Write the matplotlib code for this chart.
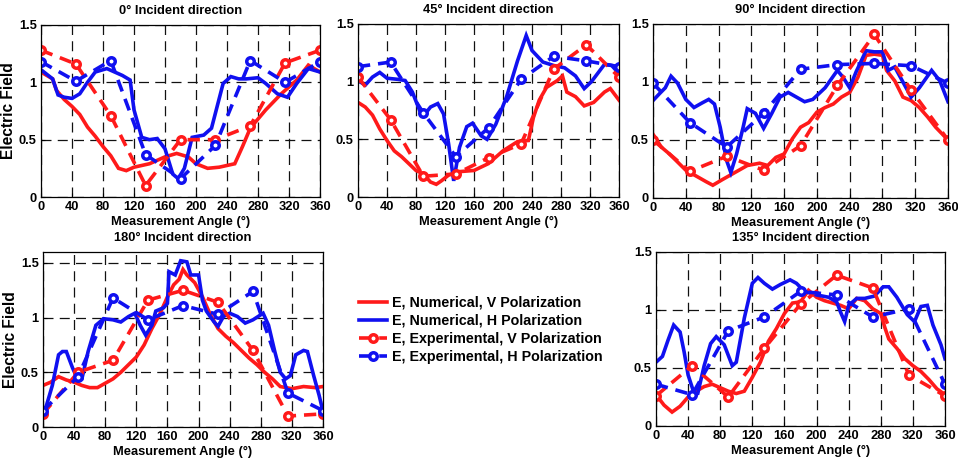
import matplotlib
matplotlib.use("Agg")
import matplotlib.pyplot as plt

plt.rcParams['font.family'] = ['Liberation Sans', 'DejaVu Sans']
plt.rcParams['font.weight'] = 'bold'

# Experimental angles
exp_angles = [0, 45, 90, 135, 180, 225, 270, 315, 360]

# ---------------- 0 deg incident ----------------
p0_exp_v = [1.28, 1.16, 0.71, 0.10, 0.50, 0.50, 0.62, 1.17, 1.28]
p0_exp_h = [1.18, 1.01, 1.19, 0.37, 0.16, 0.45, 1.19, 1.00, 1.18]
p0_num_v_x = [0, 15, 20, 30, 40, 50, 60, 70, 80, 90, 100, 110, 120, 140, 160, 175, 190, 200, 215, 230, 250, 260, 270, 290, 310, 330, 345, 360]
p0_num_v_y = [1.09, 1.03, 0.93, 0.85, 0.79, 0.72, 0.61, 0.53, 0.44, 0.36, 0.25, 0.23, 0.26, 0.29, 0.35, 0.38, 0.35, 0.29, 0.25, 0.26, 0.29, 0.44, 0.60, 0.76, 0.90, 1.02, 1.15, 1.09]
p0_num_h_x = [0, 15, 22, 30, 40, 50, 60, 70, 85, 95, 105, 115, 120, 130, 140, 150, 160, 170, 177, 185, 195, 210, 220, 235, 245, 255, 265, 280, 290, 305, 318, 330, 345, 360]
p0_num_h_y = [1.11, 1.03, 0.89, 0.87, 0.86, 0.90, 1.00, 1.09, 1.12, 1.09, 1.06, 1.02, 0.76, 0.52, 0.50, 0.51, 0.42, 0.20, 0.16, 0.25, 0.52, 0.54, 0.60, 0.99, 1.05, 1.03, 1.03, 1.04, 0.99, 0.90, 0.87, 0.99, 1.12, 1.09]

# ---------------- 45 deg incident ----------------
p45_exp_v = [1.04, 0.67, 0.18, 0.20, 0.34, 0.46, 1.11, 1.32, 1.04]
p45_exp_h = [1.13, 1.17, 0.73, 0.35, 0.60, 1.02, 1.22, 1.18, 1.13]
p45_num_v_x = [0, 10, 20, 30, 40, 50, 60, 70, 80, 90, 100, 108, 115, 125, 140, 160, 180, 200, 220, 235, 242, 250, 260, 275, 282, 288, 300, 312, 325, 340, 348, 360]
p45_num_v_y = [0.82, 0.78, 0.71, 0.59, 0.49, 0.40, 0.35, 0.29, 0.23, 0.20, 0.13, 0.11, 0.14, 0.19, 0.22, 0.23, 0.29, 0.40, 0.48, 0.49, 0.69, 0.84, 0.95, 1.01, 1.05, 0.91, 0.87, 0.79, 0.82, 0.91, 0.94, 0.84]
p45_num_h_x = [0, 10, 20, 30, 40, 55, 65, 75, 85, 95, 100, 110, 118, 125, 132, 140, 150, 158, 170, 178, 190, 205, 220, 232, 240, 255, 270, 285, 300, 312, 322, 340, 350, 360]
p45_num_h_y = [1.01, 0.97, 1.04, 1.08, 1.03, 1.02, 1.01, 0.91, 0.75, 0.74, 0.78, 0.81, 0.72, 0.46, 0.14, 0.43, 0.61, 0.64, 0.53, 0.50, 0.63, 0.87, 1.18, 1.40, 1.27, 1.17, 1.14, 1.12, 1.05, 0.94, 1.00, 1.15, 1.14, 1.07]

# ---------------- 90 deg incident ----------------
p90_exp_v = [0.50, 0.23, 0.36, 0.24, 0.45, 0.97, 1.41, 0.93, 0.50]
p90_exp_h = [0.99, 0.65, 0.44, 0.73, 1.11, 1.15, 1.16, 1.14, 0.99]
p90_num_v_x = [0, 10, 20, 30, 40, 55, 65, 73, 85, 100, 115, 130, 140, 150, 160, 170, 180, 190, 200, 210, 220, 230, 240, 250, 260, 270, 280, 285, 295, 305, 315, 325, 335, 345, 360]
p90_num_v_y = [0.55, 0.44, 0.38, 0.31, 0.24, 0.18, 0.14, 0.11, 0.16, 0.22, 0.28, 0.30, 0.28, 0.35, 0.38, 0.51, 0.61, 0.65, 0.74, 0.78, 0.81, 0.87, 0.91, 1.04, 1.23, 1.24, 1.23, 1.10, 1.01, 0.87, 0.84, 0.78, 0.70, 0.61, 0.50]
p90_num_h_x = [0, 8, 15, 22, 30, 40, 50, 60, 68, 75, 82, 90, 95, 102, 110, 115, 125, 135, 145, 155, 165, 175, 185, 195, 210, 225, 232, 240, 248, 260, 270, 280, 287, 295, 305, 315, 325, 340, 350, 360]
p90_num_h_y = [0.84, 0.90, 0.95, 1.05, 0.99, 0.85, 0.78, 0.82, 0.85, 0.81, 0.61, 0.32, 0.22, 0.38, 0.61, 0.77, 0.73, 0.60, 0.73, 0.87, 0.91, 0.87, 0.83, 0.85, 0.95, 1.10, 1.04, 0.95, 1.09, 1.27, 1.26, 1.26, 1.10, 1.13, 1.00, 0.87, 0.95, 1.10, 1.01, 0.83]

# ---------------- 180 deg incident ----------------
p180_exp_v = [0.12, 0.50, 0.61, 1.16, 1.25, 1.14, 0.70, 0.10, 0.12]
p180_exp_h = [0.15, 0.46, 1.18, 0.98, 1.11, 1.03, 1.24, 0.31, 0.15]
p180_num_v_x = [0, 10, 20, 30, 40, 50, 60, 70, 80, 90, 100, 110, 120, 130, 140, 150, 160, 168, 175, 180, 185, 195, 205, 215, 225, 235, 245, 255, 265, 275, 285, 295, 305, 320, 335, 350, 360]
p180_num_v_y = [0.38, 0.41, 0.46, 0.43, 0.41, 0.38, 0.36, 0.36, 0.40, 0.44, 0.50, 0.57, 0.64, 0.75, 0.90, 1.03, 1.19, 1.30, 1.35, 1.44, 1.39, 1.32, 1.19, 1.03, 0.90, 0.83, 0.77, 0.70, 0.63, 0.57, 0.50, 0.44, 0.37, 0.35, 0.37, 0.36, 0.37]
p180_num_h_x = [0, 5, 12, 20, 25, 30, 38, 45, 50, 58, 68, 78, 90, 100, 110, 118, 125, 132, 140, 145, 155, 160, 162, 170, 177, 185, 190, 200, 205, 210, 220, 225, 232, 240, 250, 260, 270, 283, 290, 298, 305, 312, 318, 325, 335, 340, 348, 355, 360]
p180_num_h_y = [0.11, 0.21, 0.38, 0.66, 0.69, 0.69, 0.54, 0.43, 0.44, 0.69, 0.93, 0.99, 0.98, 0.96, 1.01, 1.04, 0.93, 0.84, 0.93, 1.06, 1.09, 1.13, 1.42, 1.39, 1.52, 1.51, 1.39, 1.39, 1.16, 1.06, 0.96, 0.92, 1.01, 1.04, 1.01, 0.95, 0.98, 1.04, 0.93, 0.69, 0.50, 0.44, 0.47, 0.66, 0.70, 0.69, 0.47, 0.29, 0.14]

# ---------------- 135 deg incident ----------------
p135_exp_v = [0.26, 0.52, 0.25, 0.67, 1.05, 1.30, 1.19, 0.44, 0.26]
p135_exp_h = [0.36, 0.27, 0.82, 0.94, 1.16, 1.13, 0.94, 1.01, 0.36]
p135_num_v_x = [0, 10, 20, 30, 40, 50, 60, 70, 80, 90, 100, 110, 120, 130, 140, 150, 160, 170, 180, 190, 200, 210, 220, 230, 240, 250, 260, 270, 280, 285, 290, 300, 310, 320, 330, 340, 350, 360]
p135_num_v_y = [0.27, 0.18, 0.12, 0.17, 0.25, 0.30, 0.34, 0.36, 0.33, 0.30, 0.28, 0.30, 0.42, 0.55, 0.73, 0.84, 0.97, 1.06, 1.07, 1.17, 1.11, 1.08, 1.06, 1.04, 1.01, 1.10, 1.08, 1.01, 0.97, 0.85, 0.75, 0.67, 0.58, 0.52, 0.47, 0.40, 0.32, 0.27]
p135_num_h_x = [0, 8, 15, 22, 30, 35, 40, 48, 52, 60, 68, 75, 85, 95, 100, 110, 120, 127, 135, 145, 155, 167, 175, 185, 200, 215, 225, 230, 235, 240, 250, 260, 272, 283, 290, 300, 313, 322, 330, 338, 345, 355, 360]
p135_num_h_y = [0.55, 0.60, 0.74, 0.87, 0.81, 0.64, 0.44, 0.27, 0.28, 0.52, 0.71, 0.77, 0.70, 0.52, 0.55, 0.93, 1.23, 1.28, 1.23, 1.18, 1.22, 1.26, 1.23, 1.16, 1.13, 1.11, 1.07, 0.98, 0.90, 1.04, 1.10, 1.10, 1.12, 1.20, 1.20, 1.11, 0.96, 0.90, 1.03, 1.04, 0.87, 0.70, 0.58]

titles = ["0° Incident direction", "45° Incident direction", "90° Incident direction",
          "180° Incident direction", "135° Incident direction"]
xticks = [0, 40, 80, 120, 160, 200, 240, 280, 320, 360]
yticks = [0, 0.5, 1, 1.5]
ytick_labels = ["0", "0.5", "1", "1.5"]
legend_labels = ["E, Numerical, V Polarization", "E, Numerical, H Polarization",
                 "E, Experimental, V Polarization", "E, Experimental, H Polarization"]

W, H = 958, 462
fig = plt.figure(figsize=(W / 100, H / 100), dpi=100)

def ax_at(x0, y0, x1, y1):
    return fig.add_axes([x0 / W, 1 - y1 / H, (x1 - x0) / W, (y1 - y0) / H])

panels = [
    (ax_at(41, 25, 320, 197), p0_num_v_x, p0_num_v_y, p0_num_h_x, p0_num_h_y, p0_exp_v, p0_exp_h, 1.5, True),
    (ax_at(358, 24, 619, 197), p45_num_v_x, p45_num_v_y, p45_num_h_x, p45_num_h_y, p45_exp_v, p45_exp_h, 1.5, False),
    (ax_at(653, 24, 948, 198), p90_num_v_x, p90_num_v_y, p90_num_h_x, p90_num_h_y, p90_exp_v, p90_exp_h, 1.5, False),
    (ax_at(43, 252, 323, 427), p180_num_v_x, p180_num_v_y, p180_num_h_x, p180_num_h_y, p180_exp_v, p180_exp_h, 1.6, True),
    (ax_at(656, 252, 945, 426), p135_num_v_x, p135_num_v_y, p135_num_h_x, p135_num_h_y, p135_exp_v, p135_exp_h, 1.5, False),
]

RED = '#ff1a1a'
BLUE = '#1010f0'
lw = 2.6
handles = None
for i, (ax, nvx, nvy, nhx, nhy, ev, eh, ytop, ylab) in enumerate(panels):
    l1, = ax.plot(nvx, nvy, color=RED, lw=lw, solid_joinstyle='miter')
    l2, = ax.plot(nhx, nhy, color=BLUE, lw=lw, solid_joinstyle='miter')
    l3, = ax.plot(exp_angles, ev, color=RED, lw=lw, ls=(0, (3.4, 2.2)), marker='o',
                  ms=5.4, mfc='white', mec=RED, mew=2.5)
    l4, = ax.plot(exp_angles, eh, color=BLUE, lw=lw, ls=(0, (3.4, 2.2)), marker='o',
                  ms=5.4, mfc='white', mec=BLUE, mew=2.5)
    if handles is None:
        handles = [l1, l2, l3, l4]
    ax.set_xlim(0, 360)
    ax.set_ylim(0, ytop)
    ax.set_xticks(xticks)
    ax.set_yticks(yticks)
    ax.set_yticklabels(ytick_labels)
    ax.grid(True, color='#111111', lw=0.9, ls=(0, (8, 5)))
    ax.set_axisbelow(True)
    ax.tick_params(direction='in', length=3, labelsize=9.3, pad=3, width=0.8)
    for lab in ax.get_xticklabels() + ax.get_yticklabels():
        lab.set_fontweight('bold')
    for s in ax.spines.values():
        s.set_linewidth(0.9)
    ax.set_title(titles[i], fontsize=9.3, fontweight='bold', pad=8)
    ax.set_xlabel("Measurement Angle (°)", fontsize=9.3, fontweight='bold', labelpad=2)
    if ylab:
        ax.set_ylabel("Electric Field", fontsize=11.2, fontweight='bold', labelpad=2)

fig.legend(handles, legend_labels, loc='center', bbox_to_anchor=(481 / W, 1 - 330 / H),
           frameon=False, prop={'weight': 'bold', 'size': 10.3}, handlelength=2.0,
           handletextpad=0.35, labelspacing=0.3, borderpad=0.2)

fig.savefig("out.png", dpi=100)
